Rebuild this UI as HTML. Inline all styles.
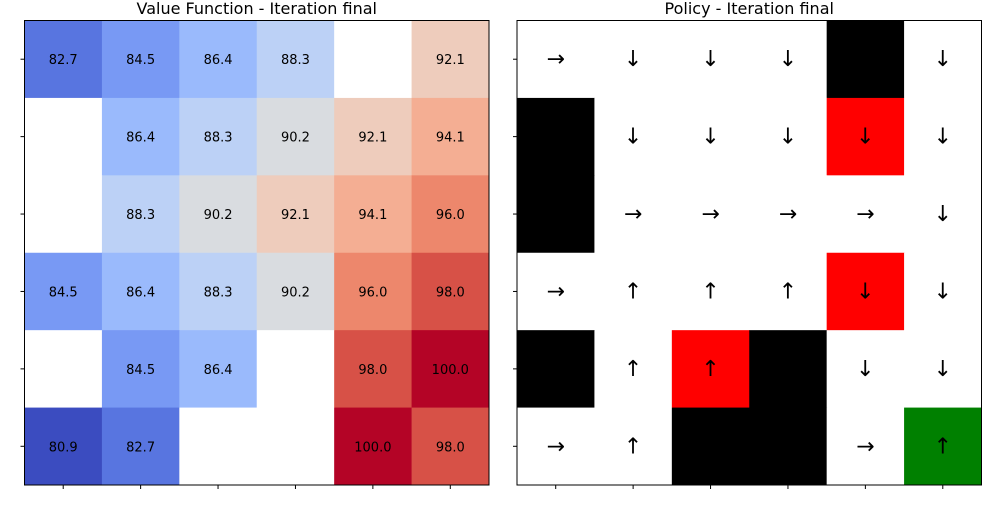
<!DOCTYPE html>
<html><head><meta charset="utf-8"><style>
body{margin:0;background:#fff;font-family:"Liberation Sans","DejaVu Sans",sans-serif}
svg text{font-family:"DejaVu Sans","Liberation Sans",sans-serif}
</style></head><body>
<svg id="c" width="1000" height="500" xmlns="http://www.w3.org/2000/svg"></svg>
<script>
const values = [
 [82.7,84.5,86.4,88.3,null,92.1],
 [null,86.4,88.3,90.2,92.1,94.1],
 [null,88.3,90.2,92.1,94.1,96.0],
 [84.5,86.4,88.3,90.2,96.0,98.0],
 [null,84.5,86.4,null,98.0,100.0],
 [80.9,82.7,null,null,100.0,98.0]];
const cellTypes = [
 ['w','w','w','w','k','w'],
 ['k','w','w','w','r','w'],
 ['k','w','w','w','w','w'],
 ['w','w','w','w','r','w'],
 ['k','w','r','k','w','w'],
 ['w','w','k','k','w','g']];
const arrows = [
 ['→','↓','↓','↓','','↓'],
 ['','↓','↓','↓','↓','↓'],
 ['','→','→','→','→','↓'],
 ['→','↑','↑','↑','↓','↓'],
 ['','↑','↑','','↓','↓'],
 ['→','↑','','','→','↑']];
const titles = ['Value Function - Iteration final','Policy - Iteration final'];
const NS='http://www.w3.org/2000/svg', svgEl=document.getElementById('c');
const cm=[[59,76,192],[98,130,234],[141,176,254],[184,208,249],[221,221,221],[245,196,173],[244,154,123],[222,96,77],[180,4,38]];
function cmap(t){t=Math.max(0,Math.min(1,t));const f=t*8,i=Math.min(7,Math.floor(f)),u=f-i;
 const c=cm[i].map((v,k)=>Math.round(v+(cm[i+1][k]-v)*u));return `rgb(${c.join(',')})`;}
function el(tag,a,p){const e=document.createElementNS(NS,tag);for(const k in a)e.setAttribute(k,a[k]);(p||svgEl).appendChild(e);return e;}
const flat=values.flat().filter(v=>v!==null),vmin=Math.min(...flat),vmax=Math.max(...flat);
const n=6, gridTop=20.5, size=464.5, cs=size/n;
const lefts=[24.5,517];
const colorsT={w:'#fff',k:'#000',r:'#ff0000',g:'#008000'};
for(let p=0;p<2;p++){
 const L=lefts[p];const g=el('g',{});
 
 
 for(let r=0;r<n;r++)for(let c=0;c<n;c++){
  const x=L+c*cs,y=gridTop+r*cs;
  let fill;
  if(p===0){const v=values[r][c];fill=v===null?'#fff':cmap((v-vmin)/(vmax-vmin));}
  else fill=colorsT[cellTypes[r][c]];
  const rc=el('rect',{x:x,y:y,width:cs+0.5,height:cs+0.5,fill:fill},g);
  
  
  let txt=p===0?(values[r][c]===null?'':values[r][c].toFixed(1)):arrows[r][c];
  if(txt){const t=el('text',{x:x+cs/2,y:y+cs/2+(p?7:5),'text-anchor':'middle','font-size':p?22:13,fill:'#000'},g);t.textContent=txt;
   
   }
 }
 el('rect',{x:L,y:gridTop,width:size,height:size,fill:'none',stroke:'#000','stroke-width':1},g);
 for(let i=0;i<n;i++){
  el('line',{x1:L-4,x2:L,y1:gridTop+(i+.5)*cs,y2:gridTop+(i+.5)*cs,stroke:'#000'},g);
  el('line',{x1:L+(i+.5)*cs,x2:L+(i+.5)*cs,y1:gridTop+size,y2:gridTop+size+4,stroke:'#000'},g);
 }
 const t=el('text',{x:L+size/2,y:14,'text-anchor':'middle','font-size':16,fill:'#000'},g);t.textContent=titles[p];
 
 
}
</script>
</body></html>
